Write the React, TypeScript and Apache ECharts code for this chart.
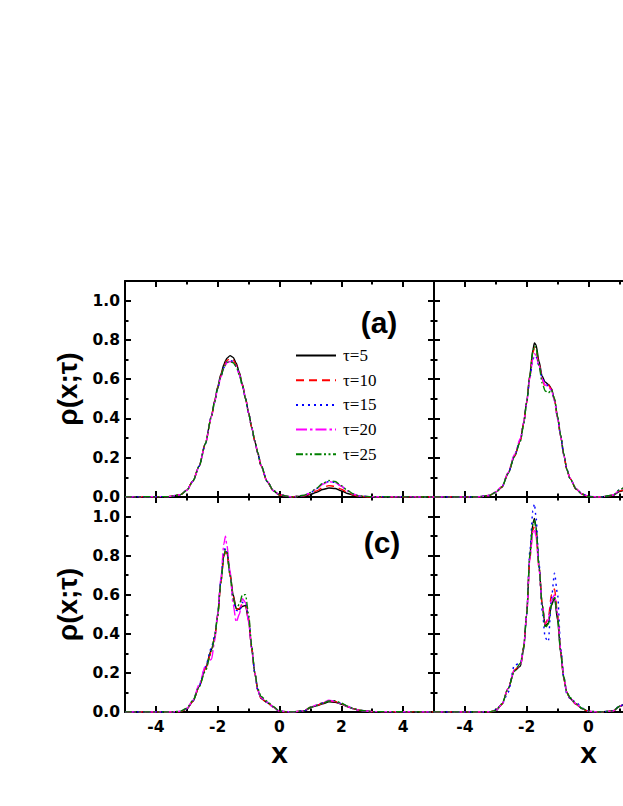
import React, { useEffect, useRef } from "react";
import * as echarts from "echarts";

// shared x grid (position along the chain)
const X_GRID = [
  -5, -3.6, -3.2, -3.0, -2.8, -2.6, -2.4, -2.2, -2.1, -2.0,
  -1.9, -1.8, -1.75, -1.7, -1.6, -1.5, -1.4, -1.3, -1.2, -1.1,
  -1.0, -0.9, -0.8, -0.7, -0.6, -0.4, -0.2, 0, 0.4, 0.8,
  1.0, 1.2, 1.4, 1.6, 1.8, 2.0, 2.2, 2.4, 2.6, 3.0, 5,
];

const TAU_LABELS = ["τ=5", "τ=10", "τ=15", "τ=20", "τ=25"];
const PANEL_LABELS = ["(a)", "(b)", "(c)", "(d)"];
const X_TICKS_LABELLED_LEFT = [-4, -2, 0, 2, 4];
const X_TICKS_LABELLED_RIGHT = [-4, -2, 0]; // the rest of the right panels lies outside the picture
const Y_TICKS_LABELLED = [0, 0.2, 0.4, 0.6, 0.8, 1.0];

// panel (a)
const A_T5 = [0, 0.002, 0.012, 0.035, 0.082, 0.158, 0.272, 0.414, 0.489, 0.561,
  0.624, 0.674, 0.693, 0.707, 0.72, 0.711, 0.682, 0.635, 0.574, 0.504,
  0.429, 0.355, 0.285, 0.222, 0.16, 0.078, 0.032, 0.01, 0, 0.005,
  0.012, 0.024, 0.038, 0.046, 0.043, 0.031, 0.018, 0.008, 0.003, 0, 0];
const A_T10 = [0, 0.002, 0.012, 0.035, 0.082, 0.158, 0.272, 0.412, 0.486, 0.556,
  0.617, 0.664, 0.682, 0.695, 0.705, 0.698, 0.672, 0.628, 0.57, 0.502,
  0.428, 0.354, 0.284, 0.222, 0.16, 0.078, 0.032, 0.01, 0, 0.006,
  0.015, 0.031, 0.048, 0.058, 0.054, 0.04, 0.023, 0.01, 0.003, 0, 0];
const A_T15 = [0, 0.002, 0.012, 0.034, 0.08, 0.156, 0.27, 0.41, 0.483, 0.552,
  0.612, 0.658, 0.676, 0.688, 0.695, 0.69, 0.667, 0.625, 0.568, 0.5,
  0.427, 0.354, 0.285, 0.223, 0.162, 0.08, 0.033, 0.011, 0, 0.008,
  0.021, 0.042, 0.066, 0.079, 0.075, 0.055, 0.031, 0.014, 0.005, 0.001, 0];
const A_T20 = [0, 0.002, 0.012, 0.034, 0.08, 0.156, 0.27, 0.41, 0.482, 0.55,
  0.61, 0.655, 0.672, 0.684, 0.69, 0.686, 0.665, 0.624, 0.567, 0.5,
  0.427, 0.354, 0.285, 0.223, 0.162, 0.08, 0.033, 0.011, 0, 0.008,
  0.021, 0.042, 0.065, 0.078, 0.074, 0.055, 0.031, 0.014, 0.005, 0.001, 0];
const A_T25 = [0, 0.002, 0.012, 0.034, 0.081, 0.157, 0.271, 0.411, 0.484, 0.553,
  0.613, 0.657, 0.674, 0.686, 0.69, 0.684, 0.663, 0.622, 0.566, 0.5,
  0.428, 0.356, 0.287, 0.225, 0.164, 0.081, 0.034, 0.011, 0, 0.009,
  0.023, 0.045, 0.07, 0.084, 0.079, 0.058, 0.033, 0.015, 0.005, 0.001, 0];

// panel (b)
const B_T5 = [0, 0, 0.008, 0.025, 0.05, 0.12, 0.205, 0.29, 0.377, 0.485,
  0.62, 0.75, 0.785, 0.775, 0.69, 0.615, 0.585, 0.573, 0.553, 0.497,
  0.405, 0.31, 0.215, 0.139, 0.095, 0.04, 0.014, 0.002, 0, 0.008,
  0.028, 0.036, 0.045, 0.052, 0.05, 0.04, 0.027, 0.016, 0.008, 0.002, 0];
const B_T10 = [0, 0, 0.008, 0.025, 0.052, 0.122, 0.208, 0.29, 0.375, 0.48,
  0.61, 0.735, 0.76, 0.75, 0.675, 0.6, 0.56, 0.57, 0.55, 0.495,
  0.405, 0.31, 0.215, 0.14, 0.095, 0.04, 0.014, 0.002, 0, 0.009,
  0.03, 0.04, 0.05, 0.058, 0.055, 0.043, 0.029, 0.017, 0.008, 0.002, 0];
const B_T15 = [0, 0, 0.008, 0.024, 0.052, 0.12, 0.21, 0.29, 0.375, 0.48,
  0.605, 0.7, 0.72, 0.715, 0.665, 0.605, 0.58, 0.565, 0.545, 0.49,
  0.4, 0.31, 0.215, 0.14, 0.096, 0.042, 0.015, 0.003, 0, 0.01,
  0.035, 0.05, 0.065, 0.075, 0.072, 0.055, 0.035, 0.02, 0.009, 0.002, 0];
const B_T20 = [0, 0, 0.008, 0.026, 0.054, 0.125, 0.215, 0.3, 0.38, 0.48,
  0.605, 0.705, 0.73, 0.72, 0.67, 0.6, 0.57, 0.56, 0.545, 0.49,
  0.4, 0.31, 0.215, 0.14, 0.097, 0.042, 0.015, 0.003, 0, 0.01,
  0.034, 0.05, 0.064, 0.074, 0.07, 0.054, 0.035, 0.02, 0.009, 0.002, 0];
const B_T25 = [0, 0, 0.008, 0.025, 0.052, 0.12, 0.205, 0.285, 0.37, 0.48,
  0.615, 0.74, 0.77, 0.76, 0.67, 0.58, 0.54, 0.53, 0.545, 0.5,
  0.41, 0.315, 0.22, 0.14, 0.095, 0.04, 0.014, 0.002, 0, 0.01,
  0.036, 0.052, 0.066, 0.078, 0.074, 0.056, 0.036, 0.02, 0.009, 0.002, 0];

// panel (c)
const C_T5 = [0, 0, 0.002, 0.015, 0.055, 0.13, 0.225, 0.32, 0.38, 0.5,
  0.67, 0.8, 0.82, 0.815, 0.71, 0.6, 0.53, 0.525, 0.54, 0.545,
  0.47, 0.32, 0.2, 0.11, 0.07, 0.048, 0.025, 0.003, 0, 0.005,
  0.022, 0.032, 0.042, 0.052, 0.05, 0.04, 0.027, 0.016, 0.008, 0.002, 0];
const C_T10 = [0, 0, 0.002, 0.016, 0.056, 0.13, 0.22, 0.31, 0.38, 0.49,
  0.66, 0.795, 0.82, 0.81, 0.7, 0.59, 0.525, 0.53, 0.55, 0.55,
  0.48, 0.33, 0.2, 0.11, 0.07, 0.048, 0.025, 0.003, 0, 0.006,
  0.024, 0.034, 0.045, 0.056, 0.054, 0.042, 0.028, 0.016, 0.008, 0.002, 0];
const C_T15 = [0, 0, 0.003, 0.017, 0.058, 0.135, 0.23, 0.33, 0.39, 0.5,
  0.67, 0.82, 0.84, 0.82, 0.7, 0.58, 0.52, 0.515, 0.56, 0.56,
  0.48, 0.33, 0.2, 0.11, 0.072, 0.05, 0.026, 0.004, 0, 0.006,
  0.024, 0.035, 0.046, 0.058, 0.056, 0.043, 0.029, 0.017, 0.008, 0.002, 0];
const C_T20 = [0, 0, 0.003, 0.018, 0.06, 0.14, 0.235, 0.27, 0.36, 0.5,
  0.68, 0.86, 0.9, 0.85, 0.72, 0.55, 0.46, 0.5, 0.58, 0.56,
  0.46, 0.33, 0.2, 0.11, 0.075, 0.05, 0.025, 0.004, 0, 0.006,
  0.025, 0.036, 0.048, 0.06, 0.055, 0.042, 0.028, 0.016, 0.008, 0.002, 0];
const C_T25 = [0, 0, 0.004, 0.02, 0.06, 0.13, 0.21, 0.31, 0.38, 0.49,
  0.66, 0.8, 0.83, 0.82, 0.7, 0.58, 0.53, 0.55, 0.6, 0.6,
  0.5, 0.34, 0.2, 0.12, 0.08, 0.055, 0.028, 0.004, 0, 0.006,
  0.024, 0.034, 0.046, 0.056, 0.058, 0.045, 0.03, 0.017, 0.009, 0.002, 0];

// panel (d)
const D_T5 = [0, 0, 0.001, 0.006, 0.04, 0.12, 0.21, 0.235, 0.32, 0.5,
  0.8, 0.965, 0.99, 0.95, 0.745, 0.55, 0.44, 0.455, 0.545, 0.585,
  0.47, 0.3, 0.17, 0.1, 0.07, 0.04, 0.016, 0.003, 0, 0.005,
  0.028, 0.04, 0.05, 0.055, 0.05, 0.04, 0.028, 0.016, 0.008, 0.002, 0];
const D_T10 = [0, 0, 0.001, 0.007, 0.04, 0.12, 0.215, 0.24, 0.33, 0.5,
  0.78, 0.93, 0.95, 0.92, 0.74, 0.55, 0.45, 0.48, 0.6, 0.63,
  0.5, 0.31, 0.17, 0.1, 0.07, 0.04, 0.016, 0.003, 0, 0.005,
  0.03, 0.042, 0.052, 0.058, 0.052, 0.041, 0.028, 0.016, 0.008, 0.002, 0];
const D_T15 = [0, 0, 0.002, 0.01, 0.04, 0.1, 0.24, 0.25, 0.32, 0.5,
  0.82, 1.03, 1.065, 1.0, 0.76, 0.52, 0.38, 0.36, 0.58, 0.71,
  0.6, 0.33, 0.18, 0.09, 0.07, 0.05, 0.02, 0.004, 0, 0.006,
  0.03, 0.043, 0.054, 0.06, 0.055, 0.043, 0.03, 0.017, 0.008, 0.002, 0];
const D_T20 = [0, 0, 0.001, 0.007, 0.04, 0.12, 0.215, 0.24, 0.33, 0.5,
  0.78, 0.92, 0.935, 0.9, 0.73, 0.55, 0.45, 0.47, 0.57, 0.6,
  0.5, 0.32, 0.18, 0.1, 0.07, 0.042, 0.017, 0.003, 0, 0.006,
  0.03, 0.042, 0.052, 0.058, 0.053, 0.042, 0.028, 0.016, 0.008, 0.002, 0];
const D_T25 = [0, 0, 0.001, 0.008, 0.042, 0.12, 0.21, 0.25, 0.33, 0.5,
  0.8, 0.96, 0.98, 0.94, 0.74, 0.55, 0.43, 0.45, 0.55, 0.59,
  0.49, 0.31, 0.18, 0.1, 0.075, 0.042, 0.018, 0.003, 0, 0.006,
  0.03, 0.042, 0.052, 0.057, 0.052, 0.041, 0.028, 0.016, 0.008, 0.002, 0];

const PANELS = [
  [A_T5, A_T10, A_T15, A_T20, A_T25],
  [B_T5, B_T10, B_T15, B_T20, B_T25],
  [C_T5, C_T10, C_T15, C_T20, C_T25],
  [D_T5, D_T10, D_T15, D_T20, D_T25],
];

const COLORS = ["#000000", "#ff0000", "#0000ff", "#ff00ff", "#008000"];
const DASHES: any[] = ["solid", [8, 5], [2, 4], [11, 3, 2.5, 3], [7, 2.5, 2, 2.5, 2, 2.5]];

const SANS = '"Liberation Sans", Arial, sans-serif';
const TICK_FONT = '"DejaVu Sans", "Liberation Sans", sans-serif';

// grid layout: [left, top, width, height]
const GRIDS = [
  [125, 281, 309, 216],
  [434, 281, 309, 216],
  [125, 497, 309, 215],
  [434, 497, 309, 215],
];

function buildOption() {
  const grid: any[] = [];
  const xAxis: any[] = [];
  const yAxis: any[] = [];
  const series: any[] = [];
  const axisLine = { show: true, onZero: false, lineStyle: { color: "#000", width: 2 } };
  const noLine = { show: false, onZero: false };
  const tick = (len: number) => ({ show: true, inside: true, length: len, lineStyle: { color: "#000", width: 2 } });
  const labelFont = { fontFamily: TICK_FONT, fontWeight: "bold", fontSize: 15.5, color: "#000" };

  GRIDS.forEach((g, gi) => {
    const bottomRow = gi >= 2;
    const leftCol = gi % 2 === 0;
    const xLabelled = leftCol ? X_TICKS_LABELLED_LEFT : X_TICKS_LABELLED_RIGHT;
    grid.push({ left: g[0], top: g[1], width: g[2], height: g[3], show: false });

    (["bottom", "top"] as const).forEach((pos) => {
      const isLabelled = pos === "bottom" && bottomRow;
      xAxis.push({
        type: "value", gridIndex: gi, position: pos, min: -5, max: 5, interval: 1,
        axisLine, axisTick: tick(3.5), axisLabel: { show: false }, splitLine: { show: false },
      });
      xAxis.push({
        type: "value", gridIndex: gi, position: pos, min: -5, max: 5, splitNumber: 5,
        axisLine: noLine, axisTick: tick(6), splitLine: { show: false },
        axisLabel: {
          show: isLabelled, margin: 7, ...labelFont,
          formatter: (v: number) => (xLabelled.includes(Math.round(v * 1000) / 1000) ? String(v) : ""),
        },
        name: isLabelled ? "x" : "",
        nameLocation: "middle", nameGap: 32, nameMoveOverlap: false,
        nameTextStyle: { fontFamily: SANS, fontWeight: "bold", fontSize: 30, lineHeight: 16, color: "#000" },
      });
    });

    (["left", "right"] as const).forEach((pos) => {
      const isLabelled = pos === "left" && leftCol;
      yAxis.push({
        type: "value", gridIndex: gi, position: pos, min: 0, max: 1.1, interval: 0.1,
        axisLine, axisTick: tick(3.5), axisLabel: { show: false }, splitLine: { show: false },
      });
      yAxis.push({
        type: "value", gridIndex: gi, position: pos, min: 0, max: 1.1, interval: 0.2,
        axisLine: noLine, axisTick: tick(6), splitLine: { show: false },
        axisLabel: {
          show: isLabelled, margin: 5, ...labelFont,
          formatter: (v: number) => {
            const r = Math.round(v * 1000) / 1000;
            return Y_TICKS_LABELLED.includes(r) ? r.toFixed(1) : "";
          },
        },
        name: isLabelled ? "ρ(x;τ)" : "",
        nameLocation: "middle", nameGap: 44, nameRotate: 90, nameMoveOverlap: false,
        nameTextStyle: { fontFamily: SANS, fontWeight: "bold", fontSize: 28, color: "#000" },
      });
    });

    PANELS[gi].forEach((vals, k) => {
      series.push({
        type: "line",
        name: TAU_LABELS[k],
        xAxisIndex: gi * 4,
        yAxisIndex: gi * 4,
        data: X_GRID.map((x, i) => [x, vals[i]]),
        symbol: "none",
        smooth: 0.25,
        smoothMonotone: "x",
        clip: true,
        lineStyle: { color: COLORS[k], width: 1.4, type: DASHES[k] },
        itemStyle: { color: COLORS[k] },
        z: 2 + k,
      });
    });
  });

  return {
    animation: false,
    backgroundColor: "#ffffff",
    grid, xAxis, yAxis, series,
    legend: {
      data: TAU_LABELS,
      orient: "vertical",
      left: 290,
      top: 342,
      itemWidth: 40,
      itemHeight: 16,
      itemGap: 7.7,
      selectedMode: false,
      itemStyle: { opacity: 0 },
      textStyle: { fontFamily: '"Liberation Serif", "Times New Roman", serif', fontSize: 17, color: "#000", lineHeight: 16, padding: [0, 0, 0, 2] },
    },
    graphic: [
      { type: "text", x: 379, y: 322, style: { text: PANEL_LABELS[0], font: `bold 30px ${SANS}`, fill: "#000", align: "center", verticalAlign: "middle" } },
      { type: "text", x: 382, y: 542, style: { text: PANEL_LABELS[2], font: `bold 30px ${SANS}`, fill: "#000", align: "center", verticalAlign: "middle" } },
    ],
  };
}

export default function App() {
  const ref = useRef<HTMLDivElement>(null);
  useEffect(() => {
    if (!ref.current) return;
    const chart = echarts.init(ref.current, undefined, { renderer: "svg" });
    chart.setOption(buildOption() as any);
    return () => chart.dispose();
  }, []);
  return (
    <div style={{ position: "fixed", left: 0, top: 0, width: 623, height: 806, overflow: "hidden", background: "#fff" }}>
      <div ref={ref} style={{ width: 760, height: 806 }} />
    </div>
  );
}
